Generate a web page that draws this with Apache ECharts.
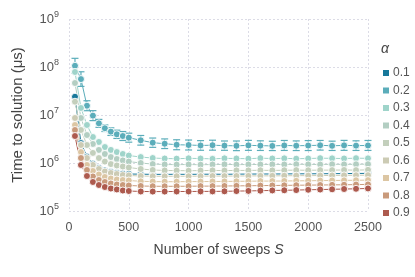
<!DOCTYPE html>
<html>
<head>
<meta charset="utf-8">
<script src="https://cdn.jsdelivr.net/npm/echarts@6/dist/echarts.min.js"></script>
<style>html,body{margin:0;padding:0;background:#fff}#c{width:415px;height:277px}</style>
</head>
<body>
<div id="c"></div>
<script>
const sweeps = [50,100,150,200,250,300,350,400,450,500,600,700,800,900,1000,1100,1200,1300,1400,1500,1600,1700,1800,1900,2000,2100,2200,2300,2400,2500];
const xTicks = [0,500,1000,1500,2000,2500];
const yTickExps = [5,6,7,8,9];
const alphaNames = ['0.1','0.2','0.3','0.4','0.5','0.6','0.7','0.8','0.9'];

const a01 = [2.40e7,2.6e6,1.36e6,9.7e5,7.9e5,7.0e5,6.5e5,6.2e5,6.0e5,5.9e5,5.85e5,5.8e5,5.8e5,5.82e5,5.8e5,5.83e5,5.85e5,5.82e5,5.86e5,5.88e5,5.9e5,5.9e5,5.92e5,5.95e5,5.95e5,5.97e5,6.0e5,6.02e5,6.05e5,6.08e5];
const a02 = [1.06e8,5.6e7,1.56e7,9.7e6,6.7e6,5.3e6,4.5e6,3.96e6,3.65e6,3.37e6,2.97e6,2.65e6,2.52e6,2.40e6,2.37e6,2.32e6,2.35e6,2.30e6,2.28e6,2.33e6,2.30e6,2.27e6,2.32e6,2.29e6,2.31e6,2.34e6,2.28e6,2.33e6,2.30e6,2.32e6];
const a03 = [7.87e7,1.40e7,6.2e6,3.48e6,2.74e6,2.15e6,1.87e6,1.69e6,1.54e6,1.43e6,1.33e6,1.27e6,1.24e6,1.23e6,1.25e6,1.24e6,1.22e6,1.25e6,1.24e6,1.23e6,1.26e6,1.24e6,1.25e6,1.23e6,1.24e6,1.26e6,1.25e6,1.24e6,1.26e6,1.25e6];
const a04 = [4.64e7,8.66e6,3.83e6,2.49e6,1.87e6,1.54e6,1.33e6,1.21e6,1.13e6,1.07e6,1.0e6,9.5e5,9.3e5,9.25e5,9.3e5,9.2e5,9.3e5,9.35e5,9.25e5,9.3e5,9.3e5,9.35e5,9.3e5,9.4e5,9.35e5,9.3e5,9.4e5,9.35e5,9.4e5,9.45e5];
const a05 = [1.89e7,4.87e6,2.37e6,1.62e6,1.27e6,1.07e6,9.5e5,8.87e5,8.45e5,8.05e5,7.5e5,7.15e5,6.98e5,6.95e5,6.9e5,6.95e5,7.0e5,6.95e5,7.0e5,7.0e5,7.05e5,7.0e5,7.05e5,7.1e5,7.05e5,7.1e5,7.1e5,7.15e5,7.1e5,7.2e5];
const a06 = [8.66e6,2.37e6,1.27e6,9.1e5,7.5e5,6.65e5,6.19e5,5.9e5,5.62e5,5.5e5,5.36e5,5.3e5,5.28e5,5.3e5,5.3e5,5.32e5,5.35e5,5.33e5,5.36e5,5.38e5,5.4e5,5.4e5,5.42e5,5.45e5,5.45e5,5.48e5,5.5e5,5.52e5,5.55e5,5.58e5];
const a07 = [6.19e6,1.69e6,9.1e5,6.81e5,5.76e5,5.11e5,4.75e5,4.53e5,4.42e5,4.32e5,4.15e5,4.1e5,4.08e5,4.08e5,4.1e5,4.1e5,4.12e5,4.13e5,4.15e5,4.17e5,4.2e5,4.2e5,4.22e5,4.25e5,4.27e5,4.3e5,4.32e5,4.35e5,4.37e5,4.4e5];
const a08 = [4.87e6,1.27e6,7.15e5,5.24e5,4.42e5,4.02e5,3.74e5,3.56e5,3.48e5,3.40e5,3.32e5,3.28e5,3.27e5,3.27e5,3.28e5,3.3e5,3.3e5,3.32e5,3.34e5,3.36e5,3.38e5,3.4e5,3.42e5,3.44e5,3.46e5,3.48e5,3.5e5,3.52e5,3.55e5,3.58e5];
const a09 = [3.65e6,9.1e5,5.36e5,4.02e5,3.48e5,3.16e5,2.94e5,2.81e5,2.67e5,2.61e5,2.55e5,2.54e5,2.54e5,2.55e5,2.55e5,2.56e5,2.56e5,2.57e5,2.6e5,2.62e5,2.65e5,2.68e5,2.7e5,2.73e5,2.77e5,2.8e5,2.83e5,2.87e5,2.9e5,2.95e5];
// relative error (multiplicative) of the 0.2 series
const err02 = [0.43,0.42,0.27,0.27,0.21,0.17,0.2,0.22,0.24,0.24,0.26,0.25,0.26,0.27,0.27,0.26,0.27,0.25,0.26,0.27,0.26,0.25,0.27,0.26,0.27,0.26,0.25,0.27,0.26,0.27];

const seriesValues = [a01,a02,a03,a04,a05,a06,a07,a08,a09];
const colors = ['#17789a','#5badba','#9fd4ca','#b3cec2','#c3cfbc','#cccbb4','#dcc6a3','#c99a7b','#ad5a4e'];

const font = 'Liberation Sans, Arial, sans-serif';
const chart = echarts.init(document.getElementById('c'), null, {renderer:'canvas'});

const lineSeries = seriesValues.map((vals, i) => ({
  name: alphaNames[i],
  type: 'line',
  data: sweeps.map((s, j) => [s, vals[j]]),
  symbol: 'circle',
  symbolSize: 7,
  color: colors[i],
  itemStyle: {color: colors[i], borderColor: '#ffffff', borderWidth: 0.9},
  lineStyle: {color: colors[i], width: 1},
  emphasis: {disabled: true},
  animation: false,
  z: 3
}));

const errSeries = {
  type: 'custom',
  name: 'err02',
  data: sweeps.map((s, j) => [s, a02[j] / (1 + err02[j]), a02[j] * (1 + err02[j])]),
  encode: {x: 0, y: [1, 2]},
  renderItem: function (params, api) {
    const lo = api.coord([api.value(0), api.value(1)]);
    const hi = api.coord([api.value(0), api.value(2)]);
    const hw = 3.5;
    const st = {stroke: colors[1], lineWidth: 1.2};
    return {type: 'group', children: [
      {type: 'line', shape: {x1: lo[0], y1: lo[1], x2: hi[0], y2: hi[1]}, style: st},
      {type: 'line', shape: {x1: lo[0]-hw, y1: lo[1], x2: lo[0]+hw, y2: lo[1]}, style: st},
      {type: 'line', shape: {x1: hi[0]-hw, y1: hi[1], x2: hi[0]+hw, y2: hi[1]}, style: st}
    ]};
  },
  animation: false,
  z: 2
};

chart.setOption({
  backgroundColor: '#ffffff',
  animation: false,
  textStyle: {fontFamily: font},
  title: {
    text: 'α', left: 376, top: 37,
    textStyle: {fontFamily: font, fontStyle: 'italic', fontWeight: 'normal', fontSize: 14, color: '#444'}
  },
  legend: {
    orient: 'vertical', left: 376, top: 62,
    icon: 'rect', itemWidth: 8, itemHeight: 8, itemGap: 5.5,
    data: alphaNames,
    textStyle: {fontFamily: font, fontSize: 12, color: '#555', padding: [0,0,0,-2]},
    selectedMode: false
  },
  grid: {left: 69, right: 47, top: 19, bottom: 66, containLabel: false},
  xAxis: {
    type: 'value', min: 0, max: 2500, interval: 500,
    name: 'Number of sweeps {s|S}', nameLocation: 'middle', nameGap: 32,
    nameTextStyle: {fontFamily: font, fontSize: 14, color: '#444',
      rich: {s: {fontFamily: font, fontSize: 14, fontStyle: 'italic', color: '#444'}}},
    axisLine: {show: false}, axisTick: {show: false},
    axisLabel: {fontFamily: font, fontSize: 12.5, color: '#555', margin: 10,
      formatter: function (v) { return String(v); }},
    splitLine: {show: true, lineStyle: {color: '#dcdce6', type: [2,2], width: 1}}
  },
  yAxis: {
    type: 'log', logBase: 10, min: 1e5, max: 1e9,
    name: 'Time to solution (μs)', nameLocation: 'middle', nameGap: 44,
    nameTextStyle: {fontFamily: font, fontSize: 15, color: '#444'},
    axisLine: {show: false}, axisTick: {show: false},
    axisLabel: {
      margin: 10,
      formatter: function (v) {
        const e = Math.round(Math.log10(v));
        return '{b|10}{e|' + e + '}';
      },
      rich: {
        b: {fontFamily: font, fontSize: 13, color: '#555'},
        e: {fontFamily: font, fontSize: 9, color: '#555', padding: [0,0,8,0]}
      }
    },
    splitLine: {show: true, lineStyle: {color: '#dcdce6', type: [2,2], width: 1}}
  },
  series: [errSeries].concat(lineSeries)
});
</script>
</body>
</html>
